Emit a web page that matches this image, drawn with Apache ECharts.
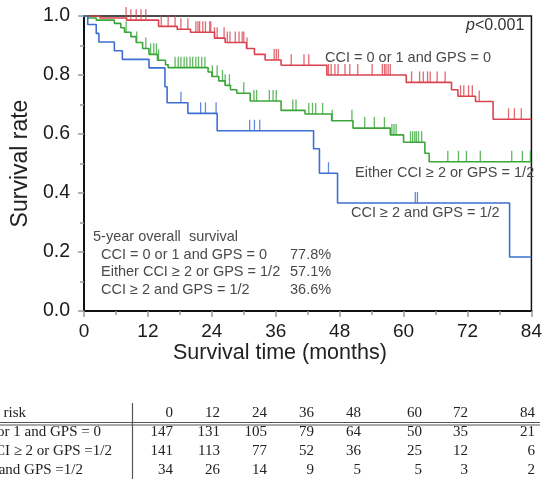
<!DOCTYPE html>
<html>
<head>
<meta charset="utf-8">
<script src="https://cdn.jsdelivr.net/npm/echarts@6/dist/echarts.min.js"></script>
<style>html,body{margin:0;padding:0;background:#fff;}#c{width:545px;height:480px;}</style>
</head>
<body>
<div id="c"></div>
<script>
// ---- data ----
const xTicks = [0, 12, 24, 36, 48, 60, 72, 84];
const groupLabels = ['CCI = 0 or 1 and GPS = 0', 'Either CCI \u2265 2 or GPS = 1/2', 'CCI \u2265 2 and GPS = 1/2'];
const tableLabels = ['CCI = 0 or 1 and GPS = 0', 'Either CCI \u2265 2 or GPS =1/2', 'CCI \u2265 2 and GPS =1/2'];
const fiveYear = ['77.8%', '57.1%', '36.6%'];
const pText = '<0.001';

// step curves: [month, survival]
const redSteps = [[0,1],[3,0.993],[8,0.986],[14,0.965],[17.5,0.955],[20,0.945],[24.5,0.925],[26.5,0.91],[30.5,0.89],[32,0.87],[34,0.851],[37,0.833],[45.6,0.80],[60.5,0.775],[69,0.75],[70.2,0.728],[73.5,0.71],[76.8,0.65],[84,0.65]];
const greenSteps = [[0,1],[0.7,0.993],[2.3,0.986],[5.7,0.975],[6.9,0.96],[7.6,0.945],[8.8,0.93],[9.8,0.91],[11,0.89],[12.2,0.87],[13.8,0.85],[15.3,0.835],[15.8,0.825],[23.3,0.81],[24,0.795],[25.3,0.78],[26.5,0.765],[27.5,0.75],[28.7,0.738],[31.2,0.712],[37,0.68],[41.5,0.668],[46.5,0.645],[50.5,0.62],[57.5,0.597],[60,0.572],[64,0.535],[64.8,0.506],[84,0.506]];
const blueSteps = [[0,1],[0.7,0.971],[2.3,0.941],[2.8,0.912],[5.7,0.882],[7.2,0.853],[12.2,0.824],[15.2,0.76],[15.6,0.706],[19.5,0.67],[25,0.611],[43.1,0.55],[44.2,0.467],[47.6,0.366],[79.9,0.183],[84,0.183]];

// censoring times (months)
const redCensor = [7.9,8.8,9.8,10.7,11.6,14.5,15.8,17.1,18.2,19.5,21.0,21.4,21.7,22.3,22.8,23.6,23.8,24.5,25.0,26.3,26.9,27.4,28.4,29.1,29.7,30.0,30.6,35.7,36.1,36.5,38.9,41.3,42.2,45.9,46.4,47.1,47.7,49.0,49.9,51.4,54.1,56.0,56.4,56.7,57.1,57.5,61.5,63.0,63.7,64.5,65.0,66.3,67.8,70.7,71.3,72.2,72.9,74.2,79.7,80.8,82.1];
const greenCensor = [7.9,9.9,11.6,12.5,13.1,13.6,14.0,17.1,17.7,18.2,18.8,19.3,19.9,20.4,21.0,21.5,22.1,22.7,24.1,25.0,26.0,26.5,27.3,30.0,31.9,32.4,34.8,35.5,36.1,39.2,39.8,42.2,42.9,43.5,44.8,46.6,50.3,52.7,54.5,56.4,57.8,58.2,58.6,61.3,61.7,62.1,62.4,62.8,63.4,68.3,70.3,71.8,74.4,80.3,82.3,83.8];
const blueCensor = [18.2,21.9,22.8,24.8,31.1,32.0,33.0,45.9,62.2,62.6];

// number at risk
const atRiskRed = [147,131,105,79,64,50,35,21];
const atRiskGreen = [141,113,77,52,36,25,12,6];
const atRiskBlue = [34,26,14,9,5,5,3,2];

// ---- chart ----
const RED = '#d9434f', GREEN = '#3aa63a', BLUE = '#3d6fd1';
function survAt(steps, t){ let s = steps[0][1]; for (const p of steps){ if (p[0] <= t) s = p[1]; } return s; }
function censorData(steps, times){ return times.map(t => [t, survAt(steps, t)]); }

const chart = echarts.init(document.getElementById('c'), null, {renderer:'canvas'});
const gridL = 84, gridT = 16, gridW = 456, gridH = 295;

function lineSeries(steps, color){
  return {type:'line', step:'end', data:steps, symbol:'none', lineStyle:{color:color, width:1.6}, z:3, animation:false};
}
function censorSeries(steps, times, color){
  return {type:'scatter', data:censorData(steps, times), symbol:'rect', symbolSize:[1.3, 11], symbolOffset:[0,-5.5], itemStyle:{color:color}, z:4, animation:false, silent:true};
}

const graphics = [];
const annotColor = '#4a4a4a';
const fontA = '"Liberation Sans", Arial, sans-serif';
const aSize = 14.5;
graphics.push({type:'text', left:466, top:18, style:{text:'{i|p}' + pText, rich:{i:{fontStyle:'italic', fontSize:16, fontFamily:fontA, fill:'#333'}}, fontSize:16, fontFamily:fontA, fill:'#333'}});
graphics.push({type:'text', left:325, top:50, style:{text:groupLabels[0], fontSize:aSize, fontFamily:fontA, fill:annotColor}});
graphics.push({type:'text', left:355, top:165, style:{text:groupLabels[1], fontSize:aSize, fontFamily:fontA, fill:annotColor}});
graphics.push({type:'text', left:351, top:205, style:{text:groupLabels[2], fontSize:aSize, fontFamily:fontA, fill:annotColor}});
graphics.push({type:'text', left:93, top:229, style:{text:'5-year overall  survival', fontSize:aSize, fontFamily:fontA, fill:annotColor}});
for (let i=0;i<3;i++){
  graphics.push({type:'text', left:101, top:247 + i*17.5, style:{text:groupLabels[i], fontSize:aSize, fontFamily:fontA, fill:annotColor}});
  graphics.push({type:'text', left:290, top:247 + i*17.5, style:{text:fiveYear[i], fontSize:aSize, fontFamily:fontA, fill:annotColor}});
}
graphics.push({type:'text', left:173, top:342, style:{text:'Survival time (months)', fontSize:21.5, fontFamily:fontA, fill:'#222'}});

// table
const fontT = '"Liberation Serif", "Times New Roman", serif';
const tSize = 15;
const colRight = [173, 220, 267, 314, 361, 422, 468, 535];
const rowY = [413, 432, 451, 470];
graphics.push({type:'text', style:{text:'Number at risk', x:26, y:rowY[0], textAlign:'right', textVerticalAlign:'middle', fontSize:tSize, fontFamily:fontT, fill:'#222'}});
xTicks.forEach((m,j)=>{
  graphics.push({type:'text', style:{text:String(m), x:colRight[j], y:rowY[0], textAlign:'right', textVerticalAlign:'middle', fontSize:tSize, fontFamily:fontT, fill:'#222'}});
});
const labelRight = [101, 112, 83];
[atRiskRed, atRiskGreen, atRiskBlue].forEach((arr,i)=>{
  graphics.push({type:'text', style:{text:tableLabels[i], x:labelRight[i], y:rowY[i+1], textAlign:'right', textVerticalAlign:'middle', fontSize:tSize, fontFamily:fontT, fill:'#222'}});
  arr.forEach((v,j)=>{
    graphics.push({type:'text', style:{text:String(v), x:colRight[j], y:rowY[i+1], textAlign:'right', textVerticalAlign:'middle', fontSize:tSize, fontFamily:fontT, fill:'#222'}});
  });
});
graphics.push({type:'line', shape:{x1:0,y1:422.5,x2:540,y2:422.5}, style:{stroke:'#555', lineWidth:1}});
graphics.push({type:'line', shape:{x1:0,y1:425,x2:540,y2:425}, style:{stroke:'#555', lineWidth:1}});
graphics.push({type:'line', shape:{x1:132.5,y1:403,x2:132.5,y2:479}, style:{stroke:'#555', lineWidth:1.2}});

chart.setOption({
  animation:false,
  backgroundColor:'#fff',
  grid:{left:gridL, top:gridT, width:gridW, height:gridH, show:true, borderColor:'#111', borderWidth:1.5, backgroundColor:'transparent'},
  xAxis:{type:'value', min:0, max:84, interval:12,
    axisLine:{show:true, onZero:false, lineStyle:{color:'#111', width:2}},
    axisTick:{show:true, length:6, lineStyle:{color:'#999', width:1.5}},
    minorTick:{show:true, splitNumber:2, length:4, lineStyle:{color:'#999', width:1.5}},
    splitLine:{show:false},
    axisLabel:{color:'#1a1a1a', fontSize:19, fontFamily:fontA, margin:11}
  },
  yAxis:{type:'value', min:0, max:1, interval:0.2,
    name:'Survival rate', nameLocation:'middle', nameGap:52, nameRotate:90,
    nameTextStyle:{color:'#222', fontSize:23, fontFamily:fontA},
    axisLine:{show:true, onZero:false, lineStyle:{color:'#111', width:2}},
    axisTick:{show:true, length:6, lineStyle:{color:'#999', width:1.5}},
    minorTick:{show:true, splitNumber:2, length:4, lineStyle:{color:'#999', width:1.5}},
    splitLine:{show:false},
    axisLabel:{color:'#1a1a1a', fontSize:19.5, fontFamily:fontA, margin:14, formatter:v=>v.toFixed(1)}
  },
  series:[
    lineSeries(redSteps, RED), censorSeries(redSteps, redCensor, RED),
    lineSeries(greenSteps, GREEN), censorSeries(greenSteps, greenCensor, GREEN),
    lineSeries(blueSteps, BLUE), censorSeries(blueSteps, blueCensor, BLUE)
  ],
  graphic:graphics
});
</script>
</body>
</html>
